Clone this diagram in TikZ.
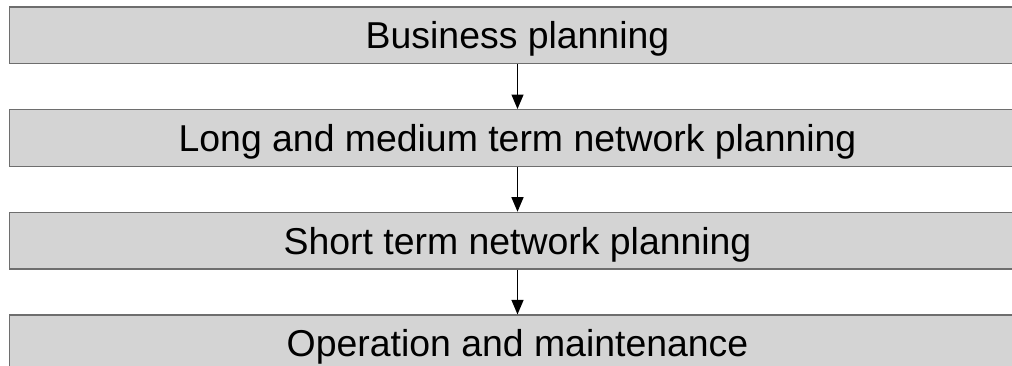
\documentclass[tikz,border=0pt]{standalone}
\usepackage{fontspec}
\setmainfont{Liberation Sans}
\usetikzlibrary{arrows.meta,positioning}

\begin{document}
\begin{tikzpicture}[
    x=1pt,y=1pt,
    node distance=44.8pt,
    stage/.style={
        draw=black!57,line width=1.4pt,fill=black!17,
        minimum width=1016pt,minimum height=56.5pt,inner sep=0pt,
        text height=26.8pt,text depth=0pt,
        font=\fontsize{37.4}{40}\selectfont
    },
    flow/.style={
        line width=1.3pt,
        -{Triangle[width=12pt,length=14.5pt]}
    }
]
    \useasboundingbox (0,0) rectangle (1012,-365);
    \clip (0,0) rectangle (1012,-365);

    \node (business) [stage] at (517.5,-35.25) {Business planning};
    \node (longterm) [stage,below=of business] {Long and medium term network planning};
    \node (shortterm) [stage,below=of longterm] {Short term network planning};
    \node (operation) [stage,below=of shortterm] {Operation and maintenance};

    \draw [flow] (business) -- (longterm);
    \draw [flow] (longterm) -- (shortterm);
    \draw [flow] (shortterm) -- (operation);

\end{tikzpicture}
\end{document}
